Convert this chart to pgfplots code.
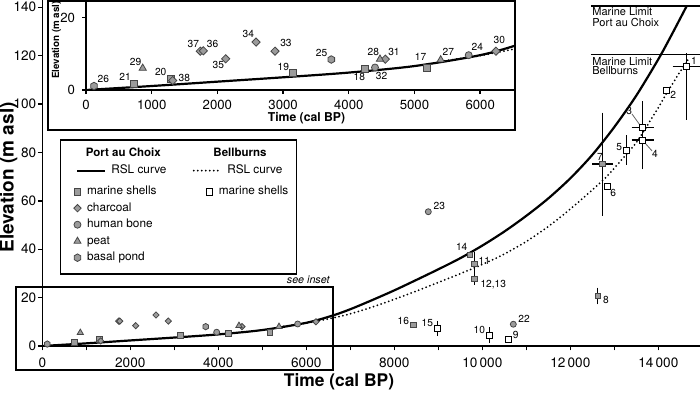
\documentclass[border=0pt]{standalone}
\usepackage{pgfplots}
\pgfplotsset{compat=1.18}
\usepackage{fontspec}
\setmainfont{TeX Gyre Heros}

\definecolor{mgray}{RGB}{155,155,155}
\definecolor{dgray}{RGB}{70,70,70}

\pgfdeclareplotmark{hexagon*}{%
  \pgfpathmoveto{\pgfpointpolar{90}{\pgfplotmarksize}}%
  \pgfpathlineto{\pgfpointpolar{150}{\pgfplotmarksize}}%
  \pgfpathlineto{\pgfpointpolar{210}{\pgfplotmarksize}}%
  \pgfpathlineto{\pgfpointpolar{270}{\pgfplotmarksize}}%
  \pgfpathlineto{\pgfpointpolar{330}{\pgfplotmarksize}}%
  \pgfpathlineto{\pgfpointpolar{30}{\pgfplotmarksize}}%
  \pgfpathclose
  \pgfusepathqfillstroke}

\pgfplotsset{
  gmark/.style={only marks, mark options={fill=mgray, draw=dgray, line width=0.4pt, solid}},
  dmark/.style={only marks, mark=square*, mark options={rotate=45, fill=mgray, draw=dgray, line width=0.4pt, solid}},
  wmark/.style={only marks, mark options={fill=white, draw=black, line width=0.45pt, solid}},
  legmark/.style={legend image code/.code={\draw[##1] plot coordinates {(0pt,0pt)};}},
  ebar/.style={black, only marks, mark=text, text mark={}, /pgfplots/error bars/error mark=-, /pgfplots/error bars/error bar style={draw=black, line width=0.7pt, solid}, /pgfplots/error bars/error mark options={draw=black, line width=0.7pt, solid, mark size=1.75pt}},
}
\tikzset{plab/.style={font=\fontsize{5.1}{5.5}\selectfont, inner sep=0pt}}

\begin{document}
\begin{tikzpicture}
% ---------------- main axis ----------------
\begin{axis}[
  at={(0pt,0pt)}, anchor=south west,
  scale only axis, width=328.85pt, height=173pt,
  xmin=0, xmax=14948, ymin=0, ymax=143,
  scaled x ticks=false, scaled y ticks=false,
  axis x line*=bottom, axis y line*=left,
  axis line style={line width=0.75pt, -},
  tick align=outside,
  major tick length=2.2pt, minor tick length=2.2pt,
  tick style={black, line width=0.7pt},
  xtick={0,2000,4000,6000,8000,10000,12000,14000},
  xticklabels={0,2000,4000,6000,8000,10\,000,12\,000,14\,000},
  minor xtick={1000,3000,5000,7000,9000,11000,13000},
  ytick={0,20,40,60,80,100,120,140},
  yticklabels={0,20,40,60,80,100,120,140},
  ticklabel style={font=\fontsize{6.8}{7}\selectfont},
  yticklabel style={inner sep=0.6pt},
  legend columns=2, legend cell align=left,
  legend style={at={(0.0479,0.524)}, anchor=north west, draw=none, fill=none,
    inner sep=0pt, outer sep=0pt, row sep=2.25pt,
    font=\fontsize{5.9}{6}\selectfont,
    nodes={inner sep=0pt, text height=4.5pt, text depth=1.5pt},
    /tikz/every odd column/.append style={column sep=2.95pt},
    /tikz/every even column/.append style={column sep=19.7pt}},
]
% RSL curves
\addplot[black, line width=1.1pt, smooth, forget plot] coordinates {
 (0,0) (1000,1.1) (2000,2.3) (3000,3.5) (4000,4.8) (5000,6.6) (6000,9.6) (6600,12.6)
 (7000,15.2) (7500,19) (8000,23) (8500,27.3) (9000,31.7) (9500,36.3) (10000,41.5)
 (10500,47.3) (11000,53.8) (11500,61) (12000,69.3) (12500,79) (13000,90.5)
 (13500,103.5) (14000,118.5) (14300,128.5) (14645,140.5)};
\addplot[black, line width=1pt, line cap=round, dash pattern=on 0pt off 2pt, smooth, forget plot] coordinates {
 (5400,7.9) (6000,9.5) (6600,11.6) (7000,13.3) (7500,16.1) (8000,19.3) (8500,22.7)
 (9000,26.3) (9500,29.9) (10000,33.7) (10500,38.0) (11000,43.2) (11500,49.4)
 (12000,56.6) (12500,64.5) (12827,70) (13000,73.5) (13500,84) (13659,88.5)
 (14000,98.5) (14191,104.5) (14500,113.5) (14680,118.5)};
% marine limits
\addplot[black, line width=0.8pt, forget plot] coordinates {(12470,140.6) (14948,140.6)};
\addplot[black, line width=0.8pt, forget plot] coordinates {(12470,120.4) (14948,120.4)};
% leader lines
\addplot[black!60, line width=0.4pt, forget plot] coordinates {(13402,95.9) (13584,91.3)};
\addplot[black!60, line width=0.4pt, forget plot] coordinates {(13698,83.9) (13859,80.6)};
% error bars
\addplot[ebar, forget plot, error bars/y dir=both, error bars/y explicit] coordinates {
 (9818,33.9) +- (0,3.5)
 (9818,27.7) += (0,3) -= (0,1)
 (12623,20.7) +- (0,2)
 (8977,7.2) +- (0,1.7)
 (10159,4.5) +- (0,1.9)
 (13282,81) +- (0,4.7)};
\addplot[ebar, forget plot, error bars/y dir=both, error bars/y explicit, error bars/x dir=both, error bars/x explicit] coordinates {
 (12736,75.2) += (160,19.8) -= (160,20)
 (14645,115.4) += (240,4.1) -= (240,20.4)
 (13645,90.2) += (170,9.6) -= (170,10.7)
 (13645,85.1) += (170,9.9) -= (170,10.7)};
% gray squares (marine shells, Port au Choix)
\addplot[gmark, mark=square*, mark size=1.4pt, forget plot] coordinates {
 (727,1.4) (1295,2.8) (3145,4.3) (4236,5.2) (5175,5.7) (9720,37.7) (8434,8.7)
 (9818,33.9) (9818,27.7) (12623,20.7) (12736,75.2)};
% white squares (marine shells, Bellburns)
\addplot[wmark, mark=square*, mark size=1.5pt, forget plot] coordinates {
 (10591,2.9) (12841,65.8) (14175,105.5) (8977,7.2) (10159,4.5) (13282,81)
 (14645,115.4) (13645,90.2) (13645,85.1)};
% charcoal
\addplot[dmark, mark size=1.1pt, forget plot] coordinates {
 (1327,2.1) (1735,10.3) (1760,10.3) (2122,8.4) (2584,12.8) (2864,10.3) (4539,8.0) (6220,10.0)};
% human bone
\addplot[gmark, mark=*, mark size=1.5pt, forget plot] coordinates {
 (3963,5.7) (5804,9.1) (8773,55.5) (10705,9.0)};
% peat
\addplot[gmark, mark=triangle*, mark size=1.8pt, forget plot] coordinates {
 (864,5.5) (4470,8.4) (5380,8.0)};
% basal pond
\addplot[gmark, mark=hexagon*, mark size=1.6pt, forget plot] coordinates {
 (114,0.8) (3713,8.0)};
% point labels
\node[plab] at (axis cs:9023,57.9) {23};
\node[plab] at (axis cs:9532,40.8) {14};
\node[plab] at (axis cs:10045,35.2) {11};
\node[plab] at (axis cs:10250,25.5) {12,13};
\node[plab] at (axis cs:8205,10.3) {16};
\node[plab] at (axis cs:8750,9.4) {15};
\node[plab] at (axis cs:9932,6.6) {10};
\node[plab] at (axis cs:10759,4.4) {9};
\node[plab] at (axis cs:10948,11.2) {22};
\node[plab] at (axis cs:12811,19.0) {8};
\node[plab] at (axis cs:14811,117.9) {1};
\node[plab] at (axis cs:14341,103.7) {2};
\node[plab] at (axis cs:13341,97.1) {3};
\node[plab] at (axis cs:13925,79.3) {4};
\node[plab] at (axis cs:13114,82.1) {5};
\node[plab] at (axis cs:12675,78.2) {7};
\node[plab] at (axis cs:12977,63.1) {6};
% marine limit labels
\node[font=\fontsize{5.5}{5.5}\selectfont, inner sep=0pt, anchor=west] at (axis cs:12493,138.4) {Marine Limit};
\node[font=\fontsize{5.5}{5.5}\selectfont, inner sep=0pt, anchor=west] at (axis cs:12493,133.8) {Port au Choix};
\node[font=\fontsize{5.5}{5.5}\selectfont, inner sep=0pt, anchor=west] at (axis cs:12493,117.6) {Marine Limit};
\node[font=\fontsize{5.5}{5.5}\selectfont, inner sep=0pt, anchor=west] at (axis cs:12493,113.9) {Bellburns};
% legend
\addlegendimage{legend image code/.code={\draw[overlay, black, line width=1.1pt, solid] (-0.15pt,0pt) -- (13.85pt,0pt); \path[draw=none, fill=none] (-1.75pt,-5.25pt) rectangle (1.75pt,1.75pt);}}
\addlegendentry{\hspace*{12.15pt}RSL curve}
\addlegendimage{legend image code/.code={\draw[overlay, black, line width=1pt, line cap=round, dash pattern=on 0pt off 2pt] (-7.85pt,0pt) -- (4.35pt,0pt); \path[draw=none, fill=none] (-1.75pt,-5.25pt) rectangle (1.75pt,1.75pt);}}
\addlegendentry{\hspace*{4.2pt}RSL curve}
\addlegendimage{only marks, mark=square*, mark size=1.7pt, mark options={fill=mgray, draw=dgray, line width=0.4pt}, legmark}
\addlegendentry{marine shells}
\addlegendimage{only marks, mark=square*, mark size=1.7pt, mark options={fill=white, draw=black, line width=0.45pt}, legmark}
\addlegendentry{marine shells}
\addlegendimage{only marks, mark=square*, mark size=1.3pt, mark options={rotate=45, fill=mgray, draw=dgray, line width=0.4pt}, legmark}
\addlegendentry{charcoal}
\addlegendimage{empty legend}
\addlegendentry{}
\addlegendimage{only marks, mark=*, mark size=1.75pt, mark options={fill=mgray, draw=dgray, line width=0.4pt}, legmark}
\addlegendentry{human bone}
\addlegendimage{empty legend}
\addlegendentry{}
\addlegendimage{only marks, mark=triangle*, mark size=2pt, mark options={fill=mgray, draw=dgray, line width=0.4pt}, legmark}
\addlegendentry{peat}
\addlegendimage{empty legend}
\addlegendentry{}
\addlegendimage{only marks, mark=hexagon*, mark size=1.9pt, mark options={fill=mgray, draw=dgray, line width=0.4pt}, legmark}
\addlegendentry{basal pond}
\end{axis}

% inset frame
\draw[line width=0.75pt, fill=white] (2.85pt,172.6pt) rectangle (236.35pt,108pt);

% ---------------- inset axis ----------------
\begin{axis}[
  at={(21.85pt,128pt)}, anchor=south west,
  scale only axis, width=214.5pt, height=45pt,
  xmin=0, xmax=6530, ymin=0, ymax=24.8,
  scaled x ticks=false,
  axis x line*=bottom, axis y line*=left,
  axis line style={line width=0.75pt, -},
  tick align=outside, major tick length=2pt,
  tick style={black, line width=0.7pt},
  xtick={0,1000,2000,3000,4000,5000,6000},
  xticklabels={0,1000,2000,3000,4000,5000,6000},
  ytick={0,20}, yticklabels={0,20},
  ticklabel style={font=\fontsize{6.6}{7}\selectfont},
  xticklabel style={yshift=0.6pt},
]
\addplot[black, line width=1.1pt, smooth] coordinates {
 (0,0) (1000,1.1) (2000,2.3) (3000,3.5) (4000,4.8) (5000,6.6) (6000,9.6) (6600,12.6) (7000,15.2)};
\addplot[black, line width=1pt, line cap=round, dash pattern=on 0pt off 2pt, smooth] coordinates {
 (5400,7.9) (6000,9.5) (6600,11.6) (7000,13.3)};
\addplot[gmark, mark=square*, mark size=1.75pt] coordinates {
 (730,1.65) (1289,3.1) (3155,4.8) (4247,5.9) (5195,6.2)};
\addplot[dmark, mark size=1.45pt] coordinates {
 (1319,2.6) (1740,10.7) (1786,10.8) (2126,8.6) (2588,13.2) (2877,10.7) (4556,8.5) (6240,10.7)};
\addplot[gmark, mark=*, mark size=1.75pt] coordinates {
 (4399,6.2) (5825,9.6)};
\addplot[gmark, mark=triangle*, mark size=2.1pt] coordinates {
 (863,6.0) (4475,8.5) (5399,8.3)};
\addplot[gmark, mark=hexagon*, mark size=1.9pt] coordinates {
 (122,1.1) (3734,8.4)};
\node[plab] at (axis cs:264,3.1) {26};
\node[plab] at (axis cs:594,3.5) {21};
\node[plab] at (axis cs:756,7.8) {29};
\node[plab] at (axis cs:1137,5.0) {20};
\node[plab] at (axis cs:1497,3.2) {38};
\node[plab] at (axis cs:1634,12.7) {37};
\node[plab] at (axis cs:1928,12.7) {36};
\node[plab] at (axis cs:2014,6.9) {35};
\node[plab] at (axis cs:2471,15.4) {34};
\node[plab] at (axis cs:3044,12.9) {33};
\node[plab] at (axis cs:3003,6.4) {19};
\node[plab] at (axis cs:3587,10.1) {25};
\node[plab] at (axis cs:4160,3.5) {18};
\node[plab] at (axis cs:4500,3.9) {32};
\node[plab] at (axis cs:4373,10.6) {28};
\node[plab] at (axis cs:4688,10.6) {31};
\node[plab] at (axis cs:5094,9.0) {17};
\node[plab] at (axis cs:5515,10.6) {27};
\node[plab] at (axis cs:5956,11.9) {24};
\node[plab] at (axis cs:6291,13.8) {30};
\end{axis}

% labels and frames
\node[font=\bfseries\fontsize{8.7}{9}\selectfont] at (148.35pt,-17.85pt) {Time (cal BP)};
\node[rotate=90, font=\bfseries\fontsize{9.5}{10}\selectfont] at (-16.9pt,84.25pt) {Elevation (m asl)};
\node[font=\bfseries\fontsize{6.1}{6.5}\selectfont] at (132.1pt,113.85pt) {Time (cal BP)};
\node[rotate=90, font=\bfseries\fontsize{4.9}{5.5}\selectfont] at (7.1pt,153pt) {Elevation (m asl)};
% legend frame and headers
\draw[line width=0.6pt] (9.2pt,103pt) rectangle (127.2pt,36pt);
\node[font=\bfseries\fontsize{5.75}{6}\selectfont] at (40.5pt,96.65pt) {Port au Choix};
\node[font=\bfseries\fontsize{5.75}{6}\selectfont] at (98.85pt,96.65pt) {Bellburns};
% see inset box
\draw[line width=0.75pt] (-13.15pt,29.5pt) rectangle (145.35pt,-12pt);
\node[font=\itshape\fontsize{5.35}{5.5}\selectfont, anchor=east, inner sep=0pt] at (143.85pt,33pt) {see inset};

\pgfresetboundingbox
\path[use as bounding box] (-21.15pt,-23.5pt) rectangle (328.85pt,173pt);
\end{tikzpicture}
\end{document}
